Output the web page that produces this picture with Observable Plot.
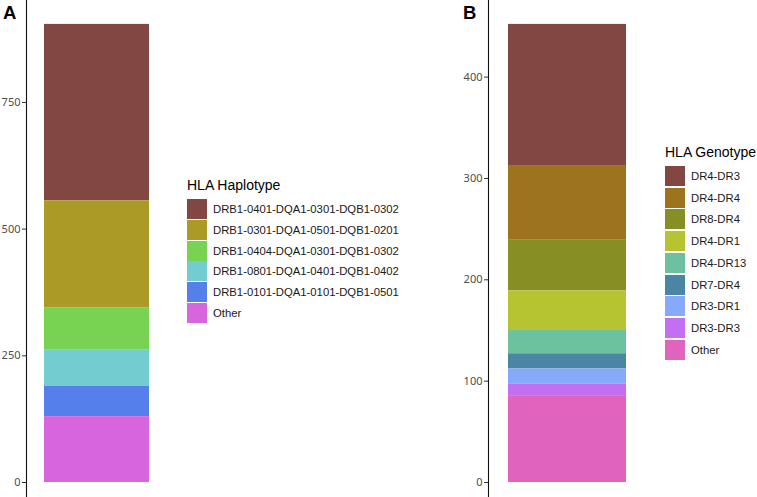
<!DOCTYPE html>
<html>
<head>
<meta charset="utf-8">
<script src="https://cdn.jsdelivr.net/npm/d3@7"></script>
<script src="https://cdn.jsdelivr.net/npm/@observablehq/plot@0.6"></script>
<style>
  html, body { margin: 0; padding: 0; background: #fff; }
  #root { position: relative; width: 757px; height: 497px; overflow: hidden; font-family: Arial, "Liberation Sans", sans-serif; }
  .panel { position: absolute; top: 0; }
  .tag { position: absolute; font-weight: bold; font-size: 18.5px; line-height: 1; color: #000; }
  .legend { position: absolute; color: #000; }
  .legend .title { font-size: 14px; line-height: 1; margin-bottom: 0; white-space: nowrap; }
  .legend .row { position: absolute; left: 0; display: flex; align-items: center; white-space: nowrap; }
  .legend .sw { width: 20px; height: 20px; }
  .legend .lab { font-size: 11.3px; margin-left: 6px; color: #1a1a1a; }
</style>
</head>
<body>
<div id="root"></div>
<script>
// Panel A: HLA haplotype (legend order, top of stack first)
const hapLabels = [
  "DRB1-0401-DQA1-0301-DQB1-0302",
  "DRB1-0301-DQA1-0501-DQB1-0201",
  "DRB1-0404-DQA1-0301-DQB1-0302",
  "DRB1-0801-DQA1-0401-DQB1-0402",
  "DRB1-0101-DQA1-0101-DQB1-0501",
  "Other"
];
const hapCounts = [348, 211, 84, 71, 60, 130];
const hapColors = ["#834743", "#AC9A26", "#77D351", "#73CCD0", "#5580EC", "#D765DD"];
const hapTicks = [0, 250, 500, 750];

// Panel B: HLA genotype
const genoLabels = ["DR4-DR3", "DR4-DR4", "DR8-DR4", "DR4-DR1", "DR4-DR13", "DR7-DR4", "DR3-DR1", "DR3-DR3", "Other"];
const genoCounts = [140, 73, 50, 39, 23, 15, 15, 12, 85];
const genoColors = ["#834743", "#9E731D", "#878F24", "#B7C432", "#6CC29E", "#4A85A3", "#87A9F9", "#C36FF2", "#E064BE"];
const genoTicks = [0, 100, 200, 300, 400];

const root = document.getElementById("root");

function panel({labels, counts, colors, ticks, left, width, axisX, xRange, tag, legendTitle, legendLeft, legendTop, rowTop, rowStep}) {
  const data = labels.map((label, i) => ({label, value: counts[i]}));
  const total = d3.sum(counts);
  const plot = Plot.plot({
    width, height: 497,
    marginLeft: axisX, marginRight: 0, marginTop: 0, marginBottom: 0,
    style: {background: "transparent", overflow: "visible"},
    x: {domain: ["all"], range: xRange, paddingInner: 0.1, paddingOuter: 0.15, axis: null},
    y: {domain: [0, total * 1.05], range: [482, 1], axis: null},
    color: {domain: labels, range: colors},
    marks: [
      Plot.barY(data, Plot.stackY({
        x: () => "all", y: "value", fill: "label", order: [...labels].reverse(), inset: 0
      })),
      Plot.axisY({ticks, label: null, tickSize: 4, tickPadding: 2, fontSize: 11, fill: "#4d4d4d", stroke: "#333", tickFormat: d => String(d)}),
      Plot.frame({anchor: "left", stroke: "#111", strokeWidth: 1.1})
    ]
  });
  const holder = document.createElement("div");
  holder.className = "panel";
  holder.style.left = left + "px";
  holder.appendChild(plot);
  root.appendChild(holder);

  const t = document.createElement("div");
  t.className = "tag";
  t.textContent = tag;
  t.style.left = (left + 3) + "px";
  t.style.top = "4px";
  root.appendChild(t);

  const color = plot.scale("color");
  const lg = document.createElement("div");
  lg.className = "legend";
  lg.style.left = legendLeft + "px";
  lg.style.top = legendTop + "px";
  const title = document.createElement("div");
  title.className = "title";
  title.textContent = legendTitle;
  lg.appendChild(title);
  labels.forEach((lab, i) => {
    const row = document.createElement("div");
    row.className = "row";
    row.style.top = (rowTop + i * rowStep) + "px";
    const sw = document.createElement("div");
    sw.className = "sw";
    sw.style.background = color.apply(lab);
    const tx = document.createElement("div");
    tx.className = "lab";
    tx.textContent = lab;
    row.appendChild(sw); row.appendChild(tx);
    lg.appendChild(row);
  });
  root.appendChild(lg);
}

panel({labels: hapLabels, counts: hapCounts, colors: hapColors, ticks: hapTicks,
  left: 0, width: 180, axisX: 26, xRange: [26, 167], tag: "A",
  legendTitle: "HLA Haplotype", legendLeft: 187, legendTop: 178, rowTop: 21, rowStep: 20.8});

panel({labels: genoLabels, counts: genoCounts, colors: genoColors, ticks: genoTicks,
  left: 460, width: 200, axisX: 28, xRange: [28.3, 186.6], tag: "B",
  legendTitle: "HLA Genotype", legendLeft: 665, legendTop: 145, rowTop: 21, rowStep: 21.7});
</script>
</body>
</html>
